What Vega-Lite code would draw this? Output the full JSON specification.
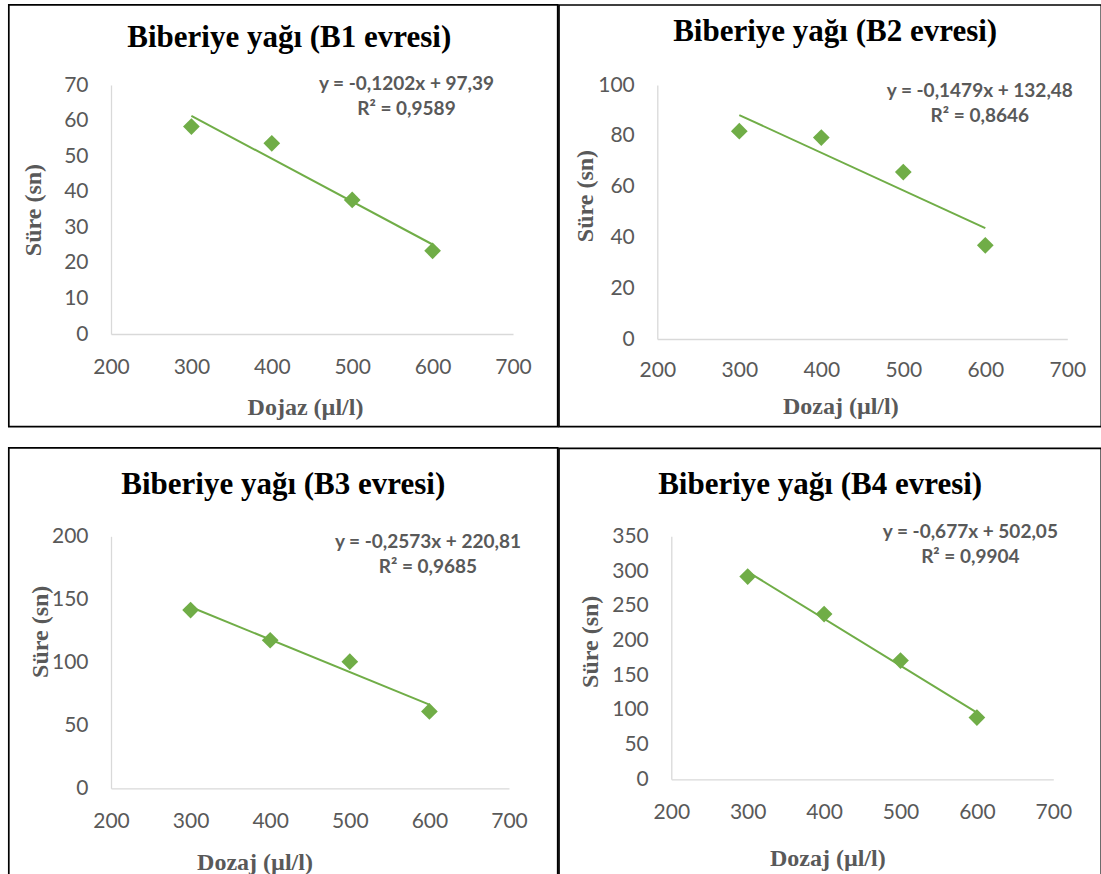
{
  "$schema": "https://vega.github.io/schema/vega-lite/v6.json",
  "background": "white",
  "padding": {"left": 7, "top": 4, "right": 1, "bottom": -3},
  "config": {
    "view": {"stroke": null},
    "axis": {"domainColor": "#D9D9D9", "domainWidth": 1.3, "ticks": false, "grid": false, "labelOverlap": false, "labelColor": "#595959", "labelFont": "Lato", "labelFontSize": 21, "titleColor": "#595959", "titleFont": "Liberation Serif", "titleFontSize": 24, "titleFontWeight": "bold"},
    "axisX": {"labelFlush": false},
    "axisY": {"labelPadding": 23},
    "title": {"font": "Liberation Serif", "fontSize": 31, "fontWeight": "bold", "color": "black", "anchor": "middle", "frame": "bounds", "baseline": "alphabetic"}
  },
  "datasets": {
    "b1": [{"doz": 300, "sure": 58.3}, {"doz": 400, "sure": 53.6}, {"doz": 500, "sure": 37.7}, {"doz": 600, "sure": 23.4}],
    "b2": [{"doz": 300, "sure": 81.8}, {"doz": 400, "sure": 79.3}, {"doz": 500, "sure": 65.7}, {"doz": 600, "sure": 36.9}],
    "b3": [{"doz": 300, "sure": 141.5}, {"doz": 400, "sure": 117.5}, {"doz": 500, "sure": 100.5}, {"doz": 600, "sure": 61}],
    "b4": [{"doz": 300, "sure": 292}, {"doz": 400, "sure": 238}, {"doz": 500, "sure": 171}, {"doz": 600, "sure": 89}]
  },
  "spacing": 18.3,
  "vconcat": [
    {
      "spacing": -1.7,
      "hconcat": [
        {
          "width": 402, "height": 249,
          "title": {"text": "Biberiye yağı (B1 evresi)", "offset": -50, "dx": 6},
          "layer": [
            {"data": {"values": [{"k": 1}]}, "mark": {"type": "rect", "fill": null, "stroke": "black", "strokeWidth": 1.7}, "encoding": {"x": {"datum": 72.9}, "x2": {"datum": 755.6}, "y": {"datum": 92.5}, "y2": {"datum": -26.06}}},
            {
              "data": {"name": "b1"},
              "encoding": {
                "x": {"field": "doz", "type": "quantitative", "title": "Dojaz (µl/l)", "scale": {"domain": [200, 700], "nice": false, "zero": false}, "axis": {"values": [200, 300, 400, 500, 600, 700], "tickCount": 20, "labelPadding": 22, "titlePadding": 18, "titleX": 194}},
                "y": {"field": "sure", "type": "quantitative", "title": "Süre (sn)", "scale": {"domain": [0, 70], "nice": false}, "axis": {"values": [0, 10, 20, 30, 40, 50, 60, 70], "tickCount": 20, "titlePadding": 18}}
              },
              "layer": [
                {"transform": [{"regression": "sure", "on": "doz"}], "mark": {"type": "line", "color": "#70AD47", "strokeWidth": 2}},
                {"mark": {"type": "point", "shape": "diamond", "filled": true, "size": 280, "color": "#70AD47", "opacity": 1}}
              ]
            },
            {"data": {"values": [{"k": 1}]}, "mark": {"type": "text", "text": ["y = -0,1202x + 97,39", "R² = 0,9589"], "align": "center", "baseline": "alphabetic", "lineHeight": 25, "font": "Lato", "fontWeight": "bold", "fontSize": 19, "color": "#595959"}, "encoding": {"x": {"datum": 567.5}, "y": {"datum": 68.6}}}
          ]
        },
        {
          "width": 410, "height": 254,
          "title": {"text": "Biberiye yağı (B2 evresi)", "offset": -44, "dx": 5},
          "layer": [
            {"data": {"values": [{"k": 1}]}, "mark": {"type": "rect", "fill": null, "stroke": "black", "strokeWidth": 1.7}, "encoding": {"x": {"datum": 80.1}, "x2": {"datum": 741.5}, "y": {"datum": 131.5}, "y2": {"datum": -34.5}}},
            {
              "data": {"name": "b2"},
              "encoding": {
                "x": {"field": "doz", "type": "quantitative", "title": "Dozaj (µl/l)", "scale": {"domain": [200, 700], "nice": false, "zero": false}, "axis": {"values": [200, 300, 400, 500, 600, 700], "tickCount": 20, "labelPadding": 20, "titlePadding": 14, "titleX": 183}},
                "y": {"field": "sure", "type": "quantitative", "title": "Süre (sn)", "scale": {"domain": [0, 100], "nice": false}, "axis": {"values": [0, 20, 40, 60, 80, 100], "tickCount": 20, "titlePadding": 0, "titleY": 110.5}}
              },
              "layer": [
                {"transform": [{"regression": "sure", "on": "doz"}], "mark": {"type": "line", "color": "#70AD47", "strokeWidth": 2}},
                {"mark": {"type": "point", "shape": "diamond", "filled": true, "size": 280, "color": "#70AD47", "opacity": 1}}
              ]
            },
            {"data": {"values": [{"k": 1}]}, "mark": {"type": "text", "text": ["y = -0,1479x + 132,48", "R² = 0,8646"], "align": "center", "baseline": "alphabetic", "lineHeight": 25, "font": "Lato", "fontWeight": "bold", "fontSize": 19, "color": "#595959"}, "encoding": {"x": {"datum": 593.3}, "y": {"datum": 95.4}}}
          ]
        }
      ]
    },
    {
      "spacing": -1.7,
      "hconcat": [
        {
          "width": 398, "height": 252,
          "title": {"text": "Biberiye yağı (B3 evresi)", "offset": -54, "dx": 0},
          "layer": [
            {"data": {"values": [{"k": 1}]}, "mark": {"type": "rect", "fill": null, "stroke": "black", "strokeWidth": 1.7}, "encoding": {"x": {"datum": 71.6}, "x2": {"datum": 761.2}, "y": {"datum": 270.1}, "y2": {"datum": -70.6}}},
            {
              "data": {"name": "b3"},
              "encoding": {
                "x": {"field": "doz", "type": "quantitative", "title": "Dozaj (µl/l)", "scale": {"domain": [200, 700], "nice": false, "zero": false}, "axis": {"values": [200, 300, 400, 500, 600, 700], "tickCount": 20, "labelPadding": 22, "titlePadding": 19, "titleX": 143.5}},
                "y": {"field": "sure", "type": "quantitative", "title": "Süre (sn)", "scale": {"domain": [0, 200], "nice": false}, "axis": {"values": [0, 50, 100, 150, 200], "tickCount": 20, "titlePadding": -1.5, "titleY": 95}}
              },
              "layer": [
                {"transform": [{"regression": "sure", "on": "doz"}], "mark": {"type": "line", "color": "#70AD47", "strokeWidth": 2}},
                {"mark": {"type": "point", "shape": "diamond", "filled": true, "size": 280, "color": "#70AD47", "opacity": 1}}
              ]
            },
            {"data": {"values": [{"k": 1}]}, "mark": {"type": "text", "text": ["y = -0,2573x + 220,81", "R² = 0,9685"], "align": "center", "baseline": "alphabetic", "lineHeight": 25, "font": "Lato", "fontWeight": "bold", "fontSize": 19, "color": "#595959"}, "encoding": {"x": {"datum": 598.2}, "y": {"datum": 190.5}}}
          ]
        },
        {
          "width": 382, "height": 243,
          "title": {"text": "Biberiye yağı (B4 evresi)", "offset": -53.5, "dx": -10},
          "layer": [
            {"data": {"values": [{"k": 1}]}, "mark": {"type": "rect", "fill": null, "stroke": "black", "strokeWidth": 1.7}, "encoding": {"x": {"datum": 53}, "x2": {"datum": 762.8}, "y": {"datum": 476.7}, "y2": {"datum": -141.6}}},
            {
              "data": {"name": "b4"},
              "encoding": {
                "x": {"field": "doz", "type": "quantitative", "title": "Dozaj (µl/l)", "scale": {"domain": [200, 700], "nice": false, "zero": false}, "axis": {"values": [200, 300, 400, 500, 600, 700], "tickCount": 20, "labelPadding": 22, "titlePadding": 24, "titleX": 156}},
                "y": {"field": "sure", "type": "quantitative", "title": "Süre (sn)", "scale": {"domain": [0, 350], "nice": false}, "axis": {"values": [0, 50, 100, 150, 200, 250, 300, 350], "tickCount": 20, "titlePadding": 9.5, "titleY": 105}}
              },
              "layer": [
                {"transform": [{"regression": "sure", "on": "doz"}], "mark": {"type": "line", "color": "#70AD47", "strokeWidth": 2}},
                {"mark": {"type": "point", "shape": "diamond", "filled": true, "size": 280, "color": "#70AD47", "opacity": 1}}
              ]
            },
            {"data": {"values": [{"k": 1}]}, "mark": {"type": "text", "text": ["y = -0,677x + 502,05", "R² = 0,9904"], "align": "center", "baseline": "alphabetic", "lineHeight": 25, "font": "Lato", "fontWeight": "bold", "fontSize": 19, "color": "#595959"}, "encoding": {"x": {"datum": 591.4}, "y": {"datum": 348.1}}}
          ]
        }
      ]
    }
  ]
}
